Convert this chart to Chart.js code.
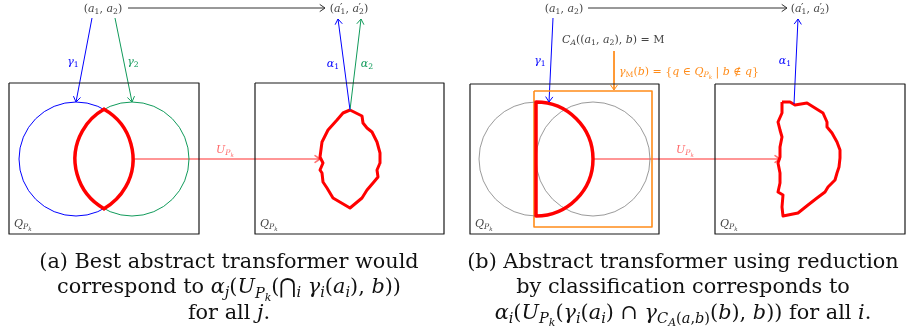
<!DOCTYPE html>
<html>
<head>
<meta charset="utf-8">
<script src="https://cdn.jsdelivr.net/npm/chart.js@4"></script>
<style>
  body { margin: 0; background: #fff; }
  #wrap { position: relative; width: 911px; height: 332px; }
  .cap { position: absolute; top: 249px; text-align: center; font-family: "DejaVu Serif", serif;
         font-size: 20.8px; line-height: 25.3px; color: #111; white-space: nowrap; }
  .cap sub { font-size: 0.7em; vertical-align: -0.3em; line-height: 0; }
  .cap sub sub { font-size: 0.75em; vertical-align: -0.25em; }
</style>
</head>
<body>
<div id="wrap">
  <canvas id="diagram" width="911" height="332"></canvas>
  <div class="cap" style="left:0;width:458px">(a) Best abstract transformer would<br>correspond to <i>α<sub>j</sub></i>(<i>U</i><sub><i>P<sub>k</sub></i></sub>(⋂<sub><i>i</i></sub> <i>γ<sub>i</sub></i>(<i>a<sub>i</sub></i>), <i>b</i>))<br>for all <i>j</i>.</div>
  <div class="cap" style="left:455px;width:456px">(b) Abstract transformer using reduction<br>by classification corresponds to<br><i>α<sub>i</sub></i>(<i>U</i><sub><i>P<sub>k</sub></i></sub>(<i>γ<sub>i</sub></i>(<i>a<sub>i</sub></i>) ∩ <i>γ</i><sub><i>C<sub>A</sub></i>(<i>a</i>,<i>b</i>)</sub>(<i>b</i>), <i>b</i>)) for all <i>i</i>.</div>
</div>
<script>
/* 좌표 단위 = 그림 px (x: 0~911, y: 0~332, 아래로 증가) */

// 상자 [x0, y0, x1, y1]
const boxes = [[9, 83, 199, 234], [255, 83, 444, 234], [470, 84, 659, 234], [715, 84, 905, 234]]
const orangeBox = [534, 91, 652, 227]

// 원 (중심, 반지름)
const circlesA = [{x: 76, y: 159, r: 57, c: '#0000ff'}, {x: 132, y: 159, r: 57, c: '#109a5a'}]
const circlesB = [{x: 536, y: 159, r: 57, c: '#808080'}, {x: 593, y: 159, r: 57, c: '#808080'}]

// 결과 영역 (빨간 윤곽)
const blobA = [[350,110],[362,116],[363,123],[367,128],[372,132],[377,142],[380,153],[380,163],[377,170],[378,177],[373,183],[367,190],[362,198],[350,208],[333,198],[327,188],[323,182],[322,173],[320,170],[323,163],[320,157],[322,142],[328,130],[337,120],[343,113],[350,110]]
const blobB = [[782,102],[790,102],[795,105],[807,103],[815,108],[823,113],[827,122],[827,127],[832,133],[837,142],[840,150],[840,158],[839,167],[837,173],[835,180],[828,187],[825,192],[817,198],[808,205],[798,213],[788,215],[783,216],[782,207],[783,195],[778,192],[780,183],[780,173],[778,163],[780,157],[780,147],[782,137],[780,130],[778,122],[782,113],[782,102]]

// 화살표 [x0, y0, x1, y1, 색, 두께]
const arrows = [
  [128, 8, 325, 8, '#333333', 1],
  [92, 18, 76, 102, '#0000ff', 1],
  [115, 18, 132, 102, '#109a5a', 1],
  [350, 110, 338, 19, '#0000ff', 1],
  [350, 110, 361, 19, '#109a5a', 1],
  [133, 159, 320, 159, 'rgba(255,0,0,0.55)', 1.6],
  [588, 8, 787, 8, '#333333', 1],
  [553, 18, 549, 102, '#0000ff', 1],
  [614, 51, 614, 90, '#ff8c1a', 1],
  [794, 104, 798, 19, '#0000ff', 1],
  [593, 159, 780, 159, 'rgba(255,0,0,0.55)', 1.6]
]

// 원호 [cx, cy, r, 시작각(도), 끝각(도), 닫기]
const arcs = [
  [76, 159, 57, -60.6, 60.6, false],
  [132, 159, 57, 119.4, 240.6, false],
  [536, 159, 57, -90, 90, true]
]

// 라벨: 글자 조각 (i=이탤릭, s=첨자 단계, u=위첨자, b=앞 조각 위치로)
const pair = [['('], ['a', 'i'], ['1', 's'], [', '], ['a', 'i'], ['2', 's'], [')']]
const pairP = [['('], ['a', 'i'], ['′', 'u'], ['1', 'sb'], [', '], ['a', 'i'], ['′', 'u'], ['2', 'sb'], [')']]
const UPk = [['U', 'i'], ['P', 'si'], ['k', 'ssi']]
const QPk = [['Q', 'i'], ['P', 'si'], ['k', 'ssi']]
const labels = [
  // [조각, x, y, 정렬, 색]
  [pair, 103, 8, 'center', '#444'],
  [pairP, 349, 8, 'center', '#444'],
  [[['γ', 'i'], ['1', 's']], 73, 61, 'center', '#0000ff'],
  [[['γ', 'i'], ['2', 's']], 133, 61, 'center', '#109a5a'],
  [[['α', 'i'], ['1', 's']], 333, 63, 'center', '#0000ff'],
  [[['α', 'i'], ['2', 's']], 367, 63, 'center', '#109a5a'],
  [UPk, 225, 149, 'center', 'rgba(255,0,0,0.6)'],
  [QPk, 14, 223, 'left', '#444'],
  [QPk, 260, 223, 'left', '#444'],
  [pair, 564, 8, 'center', '#444'],
  [pairP, 810, 8, 'center', '#444'],
  [[['C', 'i'], ['A', 'si'], ['(('], ['a', 'i'], ['1', 's'], [', '], ['a', 'i'], ['2', 's'], ['), '], ['b', 'i'], [') = M']], 562, 39, 'left', '#444'],
  [[['γ', 'i'], ['M', 's'], ['('], ['b', 'i'], [') = {'], ['q', 'i'], [' ∈ '], ['Q', 'i'], ['P', 'si'], ['k', 'ssi'], [' | '], ['b', 'i'], [' ∉ '], ['q', 'i'], ['}']], 619, 71, 'left', '#ff8c1a'],
  [[['γ', 'i'], ['1', 's']], 540, 60, 'center', '#0000ff'],
  [UPk, 685, 149, 'center', 'rgba(255,0,0,0.6)'],
  [[['α', 'i'], ['1', 's']], 785, 60, 'center', '#0000ff'],
  [QPk, 475, 223, 'left', '#444'],
  [QPk, 720, 223, 'left', '#444']
]

/***************************** dataset 만들기 *****************************/
function poly(points, color, width) {
  return {
    type: 'scatter', showLine: true, fill: false, tension: 0, pointRadius: 0,
    data: points.map(p => ({x: p[0], y: p[1]})),
    borderColor: color, borderWidth: width, borderJoinStyle: 'round'
  }
}
function rect(b, color, width) {
  return poly([[b[0], b[1]], [b[2], b[1]], [b[2], b[3]], [b[0], b[3]], [b[0], b[1]]], color, width)
}
function circle(c, width) {
  return {
    type: 'bubble', data: [{x: c.x, y: c.y, r: c.r}],
    backgroundColor: 'rgba(0,0,0,0)', borderColor: c.c, borderWidth: width, hoverBorderWidth: width
  }
}

let datasets = []
for (let b of boxes) datasets.push(rect(b, '#1a1a1a', 1.2))
for (let c of circlesA) datasets.push(circle(c, 1))
for (let c of circlesB) datasets.push(circle(c, 0.8))
datasets.push(rect(orangeBox, '#ff8c1a', 1.6))
for (let a of arrows) datasets.push(poly([[a[0], a[1]], [a[2], a[3]]], a[4], a[5]))
datasets.push(poly(blobA, '#ff0000', 3))
datasets.push(poly(blobB, '#ff0000', 3))

/***************************** 원호, 화살촉, 글자 plugin *****************************/
const fontFamily = '"DejaVu Serif", serif'

function drawRich(ctx, parts, x, y, align, size, color) {
  let items = []
  let w = 0, lastX = 0
  for (let p of parts) {
    let st = p[1] || ''
    let lvl = st.indexOf('ss') >= 0 ? 2 : (st.indexOf('s') >= 0 ? 1 : 0)
    let sup = st.indexOf('u') >= 0
    let fs = lvl === 2 ? size * 0.52 : (lvl === 1 ? size * 0.7 : size)
    let dy = lvl === 2 ? size * 0.42 : (lvl === 1 ? size * 0.22 : (sup ? -size * 0.05 : 0))
    let font = (st.indexOf('i') >= 0 ? 'italic ' : '') + fs + 'px ' + fontFamily
    ctx.font = font
    let tw = ctx.measureText(p[0]).width
    let px = st.indexOf('b') >= 0 ? lastX : w
    if (sup) px -= size * 0.05
    items.push({t: p[0], font: font, x: px, dy: dy})
    lastX = px + (sup ? size * 0.05 : 0)
    w = Math.max(w, px + tw)
  }
  let x0 = align === 'center' ? x - w / 2 : x
  ctx.fillStyle = color
  ctx.textBaseline = 'alphabetic'
  ctx.textAlign = 'left'
  for (let it of items) {
    ctx.font = it.font
    ctx.fillText(it.t, x0 + it.x, y + size * 0.35 + it.dy)
  }
}

const extras = {
  id: 'extras',
  afterDatasetsDraw(chart) {
    const ctx = chart.ctx
    const sx = chart.scales.x, sy = chart.scales.y
    const X = v => sx.getPixelForValue(v)
    const Y = v => sy.getPixelForValue(v)
    const k = Math.abs(X(1) - X(0))
    ctx.save()
    ctx.lineJoin = 'round'
    ctx.lineCap = 'round'

    // 빨간 교집합 원호
    ctx.strokeStyle = '#ff0000'
    ctx.lineWidth = 3.5
    for (let a of arcs) {
      ctx.beginPath()
      ctx.arc(X(a[0]), Y(a[1]), a[2] * k, a[3] * Math.PI / 180, a[4] * Math.PI / 180)
      if (a[5]) ctx.closePath()
      ctx.stroke()
    }

    // 화살촉
    for (let a of arrows) {
      let x1 = X(a[2]), y1 = Y(a[3])
      let ang = Math.atan2(y1 - Y(a[1]), x1 - X(a[0]))
      let len = 6, spread = 0.6
      ctx.strokeStyle = a[4]
      ctx.lineWidth = a[5]
      ctx.beginPath()
      ctx.moveTo(x1 - len * Math.cos(ang - spread), y1 - len * Math.sin(ang - spread))
      ctx.lineTo(x1, y1)
      ctx.lineTo(x1 - len * Math.cos(ang + spread), y1 - len * Math.sin(ang + spread))
      ctx.stroke()
    }

    // 글자
    for (let l of labels) drawRich(ctx, l[0], X(l[1]), Y(l[2]), l[3], 11, l[4])
    ctx.restore()
  }
}

var diagram = new Chart(document.getElementById('diagram').getContext('2d'), {
  type: 'scatter',
  data: { datasets: datasets },
  options: {
    responsive: false,
    animation: false,
    events: [],
    layout: { padding: 0, autoPadding: false },
    plugins: { legend: { display: false }, tooltip: { enabled: false } },
    scales: {
      x: { type: 'linear', min: 0, max: 911, display: false },
      y: { type: 'linear', min: 0, max: 332, reverse: true, display: false }
    }
  },
  plugins: [extras]
})
</script>
</body>
</html>
